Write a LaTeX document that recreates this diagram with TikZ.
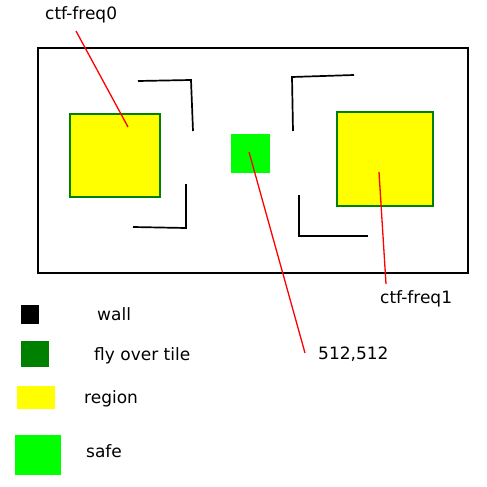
\documentclass[tikz,border=0pt]{standalone}
\usepackage{fontspec}
\setmainfont{DejaVu Sans}
\usetikzlibrary{positioning}
\definecolor{tilegreen}{HTML}{008000}
\definecolor{safegreen}{HTML}{00FF00}
\definecolor{regionyellow}{HTML}{FFFF00}
\tikzset{
  wall/.style={line width=1.7pt, black},
  region/.style={draw=tilegreen, fill=regionyellow, line width=1.5pt, inner sep=0pt},
  pointer/.style={red, line width=1.3pt},
  swatch/.style={inner sep=0pt, draw=none},
  lbl/.style={anchor=base west, inner sep=0pt, font=\fontsize{17}{20}\selectfont},
}
\begin{document}
\begin{tikzpicture}[x=1pt, y=-1pt]
\useasboundingbox (0,0) rectangle (487,487);

% map border
\draw[line width=2.2pt] (38,48) rectangle (468,273);

% regions and safe tile
\node[region, minimum width=90pt, minimum height=83pt] (freq0) at (115,155.5) {};
\node[region, minimum width=96pt, minimum height=94pt] (freq1) at (385,159) {};
\node[swatch, fill=safegreen, minimum width=39pt, minimum height=39pt] (safe) at (250.5,153.5) {};

% walls
\draw[wall] (138,81) -- (191,80) -- (193,131);
\draw[wall] (133,227) -- (186,228) -- (186,184);
\draw[wall] (354,75) -- (292,77) -- (293,131);
\draw[wall] (368,236) -- (299,236) -- (299,195);

% labels
\node[lbl] (freq0lbl) at (45,20) {ctf-freq0};
\node[lbl] (freq1lbl) at (380,303) {ctf-freq1};
\node[lbl] (safelbl) at (318,359) {512,512};

\coordinate (freq0pt) at (128,127);
\coordinate (freq0end) at (76,31);
\coordinate (freq1pt) at (379,172);
\coordinate (freq1end) at (386,284);
\coordinate (safept) at (249,152);
\coordinate (safeend) at (305,353);

\draw[pointer] (freq0end) -- (freq0pt);
\draw[pointer] (freq1pt) -- (freq1end);
\draw[pointer] (safept) -- (safeend);

% legend
\node[swatch, fill=black, minimum width=18pt, minimum height=19pt] (keywall) at (30,314.5) {};
\node[swatch, fill=tilegreen, minimum width=28pt, minimum height=26pt] (keytile) at (35,354) {};
\node[swatch, fill=regionyellow, minimum width=38pt, minimum height=23pt] (keyregion) at (36,397.5) {};
\node[swatch, fill=safegreen, minimum width=46pt, minimum height=40pt] (keysafe) at (38,455) {};

\node[lbl] (keywalllbl) at (97,320) {wall};
\node[lbl] (keytilelbl) at (94,360) {fly over tile};
\node[lbl] (keyregionlbl) at (84,403) {region};
\node[lbl] (keysafelbl) at (86,457) {safe};
\end{tikzpicture}
\end{document}
